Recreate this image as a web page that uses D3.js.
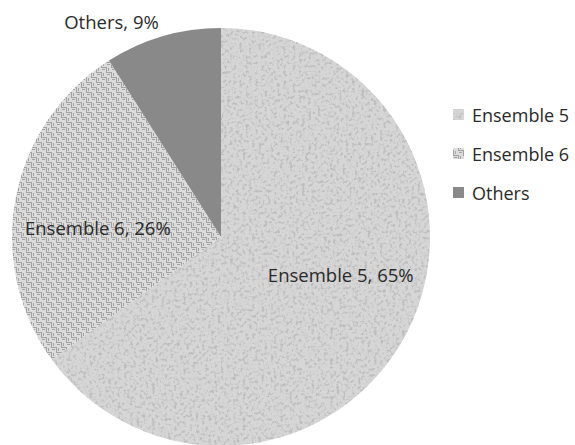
<!DOCTYPE html>
<meta charset="utf-8">
<script src="https://d3js.org/d3.v7.min.js"></script>
<style>
  body { margin: 0; background: #fff; }
  text { font-family: "Open Sans", sans-serif; fill: #2a2a2a; }
</style>
<svg width="575" height="445"></svg>
<script>
var categories = ["Ensemble 5", "Ensemble 6", "Others"];
var values = [65, 26, 9];

var svg = d3.select("svg"),
    cx = 221, cy = 237, radius = 209;

var defs = svg.append("defs");

// speckled fill for Ensemble 5
var f = defs.append("filter").attr("id", "speckle")
    .attr("x", 0).attr("y", 0).attr("width", 1).attr("height", 1);
f.append("feTurbulence").attr("type", "fractalNoise").attr("baseFrequency", 0.32)
    .attr("numOctaves", 3).attr("seed", 4).attr("result", "t");
f.append("feColorMatrix").attr("in", "t").attr("type", "matrix")
    .attr("values", "0 0 0 0 0.5  0 0 0 0 0.5  0 0 0 0 0.5  -3.6 0 0 0 1.85")
    .attr("result", "dots");
f.append("feComposite").attr("in", "dots").attr("in2", "SourceAlpha").attr("operator", "in");

// woven hatch for Ensemble 6
var hatch = defs.append("pattern").attr("id", "hatch")
    .attr("patternUnits", "userSpaceOnUse").attr("width", 10).attr("height", 10);
hatch.append("rect").attr("width", 10).attr("height", 10).attr("fill", "#dcdcdc");
[[0, 0, 5, 1], [5, 5, 5, 1], [5, 0, 1, 5], [0, 5, 1, 5], [1, 2, 3, 1], [6, 7, 3, 1], [7, 1, 1, 3], [2, 6, 1, 3]]
  .forEach(function (r) {
    hatch.append("rect").attr("x", r[0]).attr("y", r[1]).attr("width", r[2]).attr("height", r[3]).attr("fill", "#a2a2a2");
  });

var fills = { "Ensemble 5": "#d6d6d6", "Ensemble 6": "url(#hatch)", "Others": "#898989" };

var pie = d3.pie().sort(null).value(function (d, i) { return values[i]; });
var arcs = pie(categories);

var arc = d3.arc().innerRadius(0).outerRadius(radius);
var labelArc = d3.arc().innerRadius(radius * 0.6).outerRadius(radius * 0.6);
var outerArc = d3.arc().innerRadius(radius + 14).outerRadius(radius + 14);

var g = svg.append("g").attr("transform", "translate(" + cx + "," + cy + ")");

g.selectAll("path.slice")
    .data(arcs)
    .enter().append("path")
    .attr("class", "slice")
    .attr("d", arc)
    .attr("fill", function (d) { return fills[d.data]; });

// noise overlay on Ensemble 5
g.append("path")
    .attr("d", arc(arcs[0]))
    .attr("fill", "#fff")
    .attr("filter", "url(#speckle)");

// data labels
g.selectAll("text.lbl")
    .data(arcs)
    .enter().append("text")
    .attr("class", "lbl")
    .attr("font-size", 18.5)
    .attr("transform", function (d) {
      var p = d.data === "Others" ? outerArc.centroid(d) : labelArc.centroid(d);
      var dx = d.data === "Ensemble 5" ? 8 : 0;
      var dy = d.data === "Ensemble 5" ? -18 : (d.data === "Ensemble 6" ? 15 : 0);
      return "translate(" + (p[0] + dx) + "," + (p[1] + dy) + ")";
    })
    .attr("text-anchor", function (d) { return d.data === "Others" ? "end" : "middle"; })
    .attr("dy", "0.35em")
    .text(function (d, i) { return d.data + ", " + values[i] + "%"; });

// legend
var legend = svg.append("g")
    .selectAll("g")
    .data(categories)
    .enter().append("g")
    .attr("transform", function (d, i) { return "translate(453," + (116 + i * 39) + ")"; });

legend.append("rect")
    .attr("x", 0).attr("y", -7)
    .attr("width", 11).attr("height", 11)
    .attr("fill", function (d) { return fills[d]; });

legend.filter(function (d) { return d === "Ensemble 5"; })
    .append("rect")
    .attr("x", 0).attr("y", -7).attr("width", 11).attr("height", 11)
    .attr("fill", "#fff").attr("filter", "url(#speckle)");

legend.append("text")
    .attr("x", 19)
    .attr("dy", "0.35em")
    .attr("font-size", 18)
    .text(function (d) { return d; });
</script>
